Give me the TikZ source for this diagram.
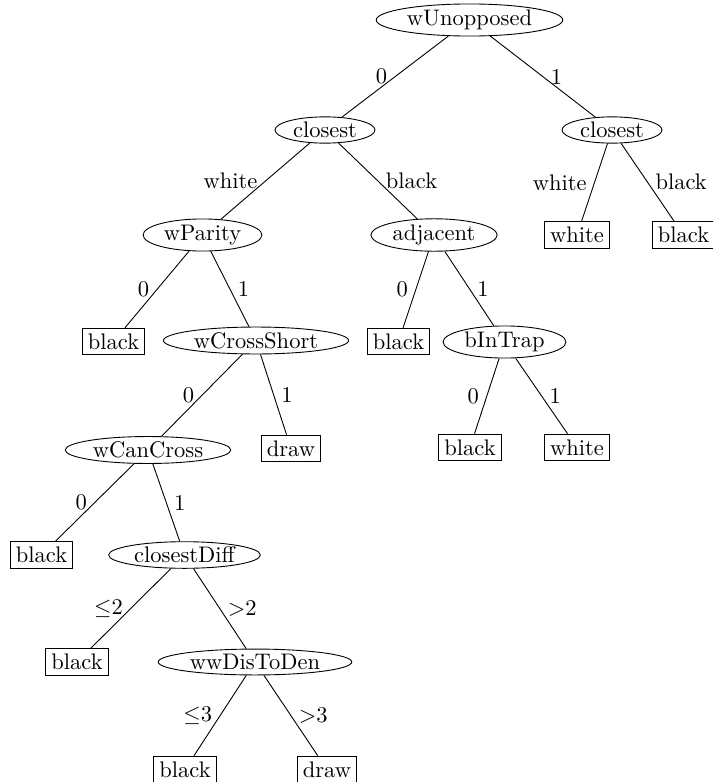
\documentclass[tikz,border=0pt]{standalone}
\usetikzlibrary{shapes.geometric}
\begin{document}
\begin{tikzpicture}[x=0.4444pt,y=-0.4444pt,
  test/.style={draw,ellipse,inner xsep=1.5pt,inner ysep=0.6pt},
  leaf/.style={draw,rectangle,inner xsep=2.5pt,inner ysep=2.4pt},
  lab/.style={midway}]
\useasboundingbox (0,0) rectangle (712,782);
% level 0
\node[test] (wU) at (469.5,20) {wUnopposed};
% level 1
\node[test] (cL) at (325,130) {closest};
\node[test] (cR) at (612,130) {closest};
% level 2
\node[test] (wP) at (202.5,235) {wParity};
\node[test] (adj) at (434,235) {adjacent};
\node[leaf] (cRw) at (577,235) {white};
\node[leaf] (cRb) at (683.5,235) {black};
% level 3
\node[leaf] (wPb) at (113.5,341.5) {black};
\node[test] (wCS) at (256,340.5) {wCrossShort};
\node[leaf] (adjb) at (398.5,341.5) {black};
\node[test] (bIT) at (504.5,342) {bInTrap};
% level 4
\node[test] (wCC) at (148,450) {wCanCross};
\node[leaf] (wCSd) at (291,448.5) {draw};
\node[leaf] (bITb) at (470,447.5) {black};
\node[leaf] (bITw) at (577,447.5) {white};
% level 5
\node[leaf] (wCCb) at (41.5,555) {black};
\node[test] (cD) at (184.5,555) {closestDiff};
% level 6
\node[leaf] (cDb) at (77,662) {black};
\node[test] (wwD) at (255,662) {wwDisToDen};
% level 7
\node[leaf] (wwDb) at (185,769.5) {black};
\node[leaf] (wwDd) at (327,769.5) {draw};
% edges
\draw (wU) -- node[lab,left]{0} (cL);
\draw (wU) -- node[lab,right]{1} (cR);
\draw (cR) -- node[lab,left]{white} (cRw);
\draw (cR) -- node[lab,right]{black} (cRb);
\draw (cL) -- node[lab,left]{white} (wP);
\draw (cL) -- node[lab,right]{black} (adj);
\draw (wP) -- node[lab,left]{0} (wPb);
\draw (wP) -- node[lab,right]{1} (wCS);
\draw (adj) -- node[lab,left]{0} (adjb);
\draw (adj) -- node[lab,right]{1} (bIT);
\draw (wCS) -- node[lab,left]{0} (wCC);
\draw (wCS) -- node[lab,right]{1} (wCSd);
\draw (bIT) -- node[lab,left]{0} (bITb);
\draw (bIT) -- node[lab,right]{1} (bITw);
\draw (wCC) -- node[lab,left]{0} (wCCb);
\draw (wCC) -- node[lab,right]{1} (cD);
\draw (cD) -- node[lab,left]{$\leq$2} (cDb);
\draw (cD) -- node[lab,right]{$>$2} (wwD);
\draw (wwD) -- node[lab,left]{$\leq$3} (wwDb);
\draw (wwD) -- node[lab,right]{$>$3} (wwDd);
\end{tikzpicture}
\end{document}
